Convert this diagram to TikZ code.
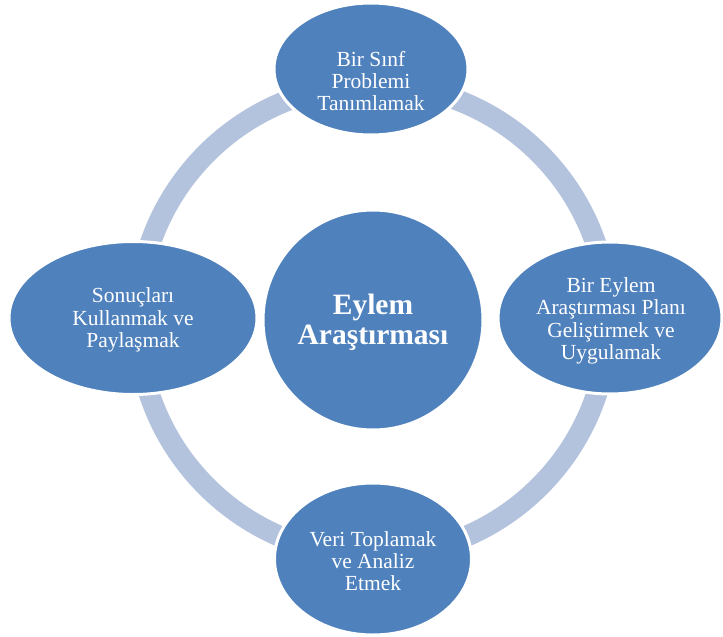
\documentclass[tikz,border=0pt]{standalone}
\usepackage{fontspec}
\setmainfont{Liberation Serif}
\usetikzlibrary{shapes.geometric}
\definecolor{accentblue}{HTML}{4F81BD}
\definecolor{ringblue}{HTML}{B3C2DD}
\begin{document}
\begin{tikzpicture}[x=1pt,y=-1pt,
  ring/.style={draw=ringblue,line width=21pt},
  stage/.style={ellipse,fill=accentblue,draw=white,line width=3pt,inner sep=0pt},
  hub/.style={circle,fill=accentblue,draw=white,line width=3pt,inner sep=0pt,minimum size=220pt},
  stagetext/.style={text=white,align=center,font=\fontsize{21.5}{22.3}\selectfont},
  hubtext/.style={text=white,align=center,font=\fontsize{29.5}{30}\selectfont\bfseries}]
  \useasboundingbox (0,0) rectangle (723,637);
  % cycle ring behind the stages
  \coordinate (ringc) at (373,320);
  \draw[ring] (ringc) circle[radius=235.5];
  % stages of the cycle
  \node[stage,minimum width=194pt,minimum height=132pt] (top) at (371,69) {};
  \node[stage,minimum width=224pt,minimum height=152pt] (right) at (610,318) {};
  \node[stage,minimum width=197pt,minimum height=152pt] (bottom) at (373,559) {};
  \node[stage,minimum width=248pt,minimum height=153pt] (left) at (133,318) {};
  % hub
  \node[hub] (hub) at (373,320) {};
  % labels
  \node[stagetext] (toptext) at (371,81) {Bir Sınf\\Problemi\\Tanımlamak};
  \node[stagetext] (righttext) at (611,321) {Bir Eylem\\Araştırması Planı\\Geliştirmek ve\\Uygulamak};
  \node[stagetext] (bottomtext) at (373,561) {Veri Toplamak\\ve Analiz\\Etmek};
  \node[stagetext] (lefttext) at (133,320) {Sonuçları\\Kullanmak ve\\Paylaşmak};
  \node[hubtext] (hubtext) at (373,322) {Eylem\\Araştırması};
\end{tikzpicture}
\end{document}
